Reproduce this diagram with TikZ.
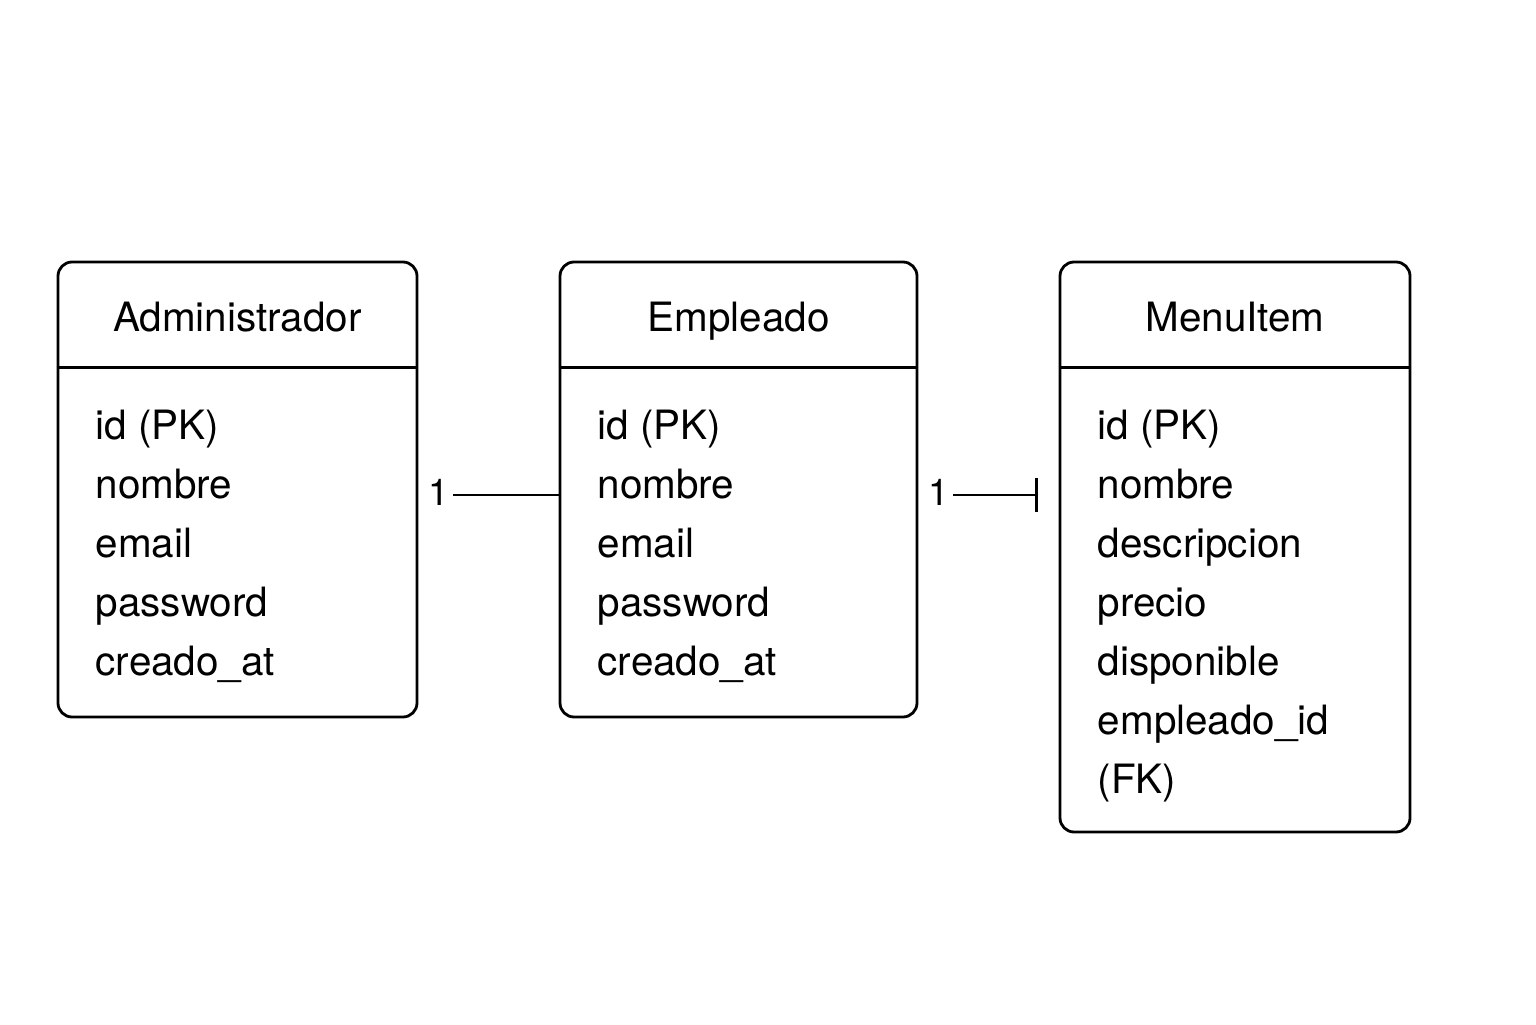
\documentclass[tikz,border=0pt]{standalone}
\usepackage{fontspec}
\setmainfont{TeX Gyre Heros}
\usepackage{tikz}
\usetikzlibrary{arrows.meta,positioning,calc}

\begin{document}
\begin{tikzpicture}[
    entity/.style={draw, line width=0.8pt, rounded corners=4pt, inner sep=0pt},
    title/.style={font=\fontsize{11.5}{14}\selectfont, inner sep=0pt, anchor=base},
    fields/.style={font=\fontsize{11.5}{16.8}\selectfont, align=left, anchor=north west, inner sep=0pt},
    card/.style={font=\fontsize{10.5}{12}\selectfont, inner sep=1pt},
    link/.style={line width=0.8pt}]
  \useasboundingbox (0,0) rectangle (15.36,10.24);

  % entities
  \node[entity, minimum width=3.59cm, minimum height=4.55cm] (adm) at (2.375,5.345) {};
  \node[title] (admT) at (2.375,6.93) {Administrador};
  \draw[line width=0.8pt] ($(adm.north west)+(0,-1.07)$) -- ($(adm.north east)+(0,-1.07)$);
  \node[fields] (admF) at (0.95,6.15) {id (PK)\\ nombre\\ email\\ password\\ creado\_at};

  \node[entity, minimum width=3.57cm, minimum height=4.55cm] (emp) at (7.385,5.345) {};
  \node[title] (empT) at (7.385,6.93) {Empleado};
  \draw[line width=0.8pt] ($(emp.north west)+(0,-1.07)$) -- ($(emp.north east)+(0,-1.07)$);
  \node[fields] (empF) at (5.97,6.15) {id (PK)\\ nombre\\ email\\ password\\ creado\_at};

  \node[entity, minimum width=3.50cm, minimum height=5.70cm] (menu) at (12.35,4.77) {};
  \node[title] (menuT) at (12.35,6.93) {MenuItem};
  \draw[line width=0.8pt] ($(menu.north west)+(0,-1.07)$) -- ($(menu.north east)+(0,-1.07)$);
  \node[fields] (menuF) at (10.97,6.15) {id (PK)\\ nombre\\ descripcion\\ precio\\ disponible\\ empleado\_id\\ (FK)};

  % relations
  \node[card, anchor=west] (c1) at (4.24,5.32) {1};
  \draw[link] (c1.east |- 0,5.29) -- (emp.west |- 0,5.29);

  \node[card, anchor=west] (c2) at (9.24,5.32) {1};
  \coordinate (tk) at (10.38,5.29);
  \draw[link, -{Bar[width=9.7pt,line width=0.8pt]}] (c2.east |- tk) -- (tk);
\end{tikzpicture}
\end{document}
